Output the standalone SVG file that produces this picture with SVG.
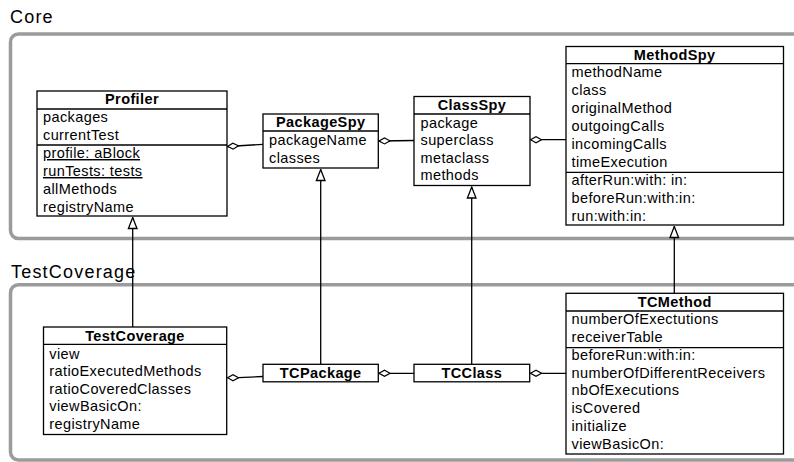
<svg xmlns="http://www.w3.org/2000/svg" width="794" height="462" viewBox="0 0 794 462">
<style>
.frame{fill:none;stroke:#9b9b9b;stroke-width:3.5}
.lbl{font-family:"Liberation Sans",Arial,Helvetica,sans-serif;font-size:18px;letter-spacing:1.2px;fill:#000}
.box{fill:#fff;stroke:#000;stroke-width:1.3}
.sep{stroke:#000;stroke-width:1.3}
.t{font-family:"Liberation Sans",Arial,Helvetica,sans-serif;font-size:14.5px;font-weight:bold;letter-spacing:0.4px;text-anchor:middle;fill:#000}
.a{font-family:"Liberation Sans",Arial,Helvetica,sans-serif;font-size:14.5px;letter-spacing:0.4px;fill:#000}
.u{text-decoration:underline}
.c{fill:none;stroke:#000;stroke-width:1.3}
.agg{marker-start:url(#dia)}
.inh{marker-end:url(#tri)}
</style>
<defs>
<marker id="dia" markerUnits="userSpaceOnUse" viewBox="-1 -4 13 8" refX="0" refY="0" markerWidth="13" markerHeight="8" orient="auto">
<path d="M0,0 L5.5,-3 L11,0 L5.5,3 Z" fill="#fff" stroke="#000" stroke-width="1.2"/>
</marker>
<marker id="tri" markerUnits="userSpaceOnUse" viewBox="-12 -6 13 12" refX="0" refY="0" markerWidth="13" markerHeight="12" orient="auto">
<path d="M0,0 L-11,-4.3 L-11,4.3 Z" fill="#fff" stroke="#000" stroke-width="1.3"/>
</marker>
</defs>

<g id="core-frame">
<rect class="frame" x="10.5" y="34" width="800" height="204.5" rx="8"/>
<text class="lbl" x="10" y="22.5">Core</text>
</g>
<g id="testcoverage-frame">
<rect class="frame" x="10.5" y="284.7" width="800" height="175.3" rx="8"/>
<text class="lbl" x="11" y="277.5">TestCoverage</text>
</g>

<g id="connectors">
<path class="c agg" d="M227.5,146.5 L263,144.3"/>
<path class="c agg" d="M379,141 L414,140.5"/>
<path class="c agg" d="M530.5,139.7 L566,139.7"/>
<path class="c agg" d="M227.5,377.7 L238.5,377.7 L263,376.5"/>
<path class="c agg" d="M379,373.3 L414,373.3"/>
<path class="c agg" d="M530.5,373.3 L566,373.3"/>
<path class="c inh" d="M132.7,327 L132.7,217.5"/>
<path class="c inh" d="M320.7,364.3 L320.7,169.5"/>
<path class="c inh" d="M471.7,364.3 L471.7,187"/>
<path class="c inh" d="M674.3,293.3 L674.3,226.5"/>
</g>

<g id="Profiler">
<rect class="box" x="37" y="91" width="190" height="125"/>
<line class="sep" x1="37" y1="109" x2="227" y2="109"/>
<line class="sep" x1="37" y1="145" x2="227" y2="145"/>
<text class="t" x="132" y="104">Profiler</text>
<text class="a" x="43" y="122">packages</text>
<text class="a" x="43" y="140">currentTest</text>
<text class="a u" x="43" y="158">profile: aBlock</text>
<text class="a u" x="43" y="176">runTests: tests</text>
<text class="a" x="43" y="194">allMethods</text>
<text class="a" x="43" y="212">registryName</text>
</g>

<g id="PackageSpy">
<rect class="box" x="263" y="114" width="115.3" height="54"/>
<line class="sep" x1="263" y1="131" x2="378.3" y2="131"/>
<text class="t" x="320.7" y="127">PackageSpy</text>
<text class="a" x="269" y="145">packageName</text>
<text class="a" x="269" y="163">classes</text>
</g>

<g id="ClassSpy">
<rect class="box" x="414" y="96.5" width="116" height="89"/>
<line class="sep" x1="414" y1="114" x2="530" y2="114"/>
<text class="t" x="472" y="110">ClassSpy</text>
<text class="a" x="420.5" y="127.5">package</text>
<text class="a" x="420.5" y="145">superclass</text>
<text class="a" x="420.5" y="162.7">metaclass</text>
<text class="a" x="420.5" y="180.3">methods</text>
</g>

<g id="MethodSpy">
<rect class="box" x="566" y="46.5" width="217.5" height="178.5"/>
<line class="sep" x1="566" y1="63.7" x2="783.5" y2="63.7"/>
<line class="sep" x1="566" y1="172.3" x2="783.5" y2="172.3"/>
<text class="t" x="674.7" y="59.5">MethodSpy</text>
<text class="a" x="571.5" y="76.7">methodName</text>
<text class="a" x="571.5" y="94.7">class</text>
<text class="a" x="571.5" y="112.5">originalMethod</text>
<text class="a" x="571.5" y="130.7">outgoingCalls</text>
<text class="a" x="571.5" y="148.7">incomingCalls</text>
<text class="a" x="571.5" y="166.7">timeExecution</text>
<text class="a" x="571.5" y="185">afterRun:with: in:</text>
<text class="a" x="571.5" y="203">beforeRun:with:in:</text>
<text class="a" x="571.5" y="221">run:with:in:</text>
</g>

<g id="TestCoverage">
<rect class="box" x="43.5" y="327" width="183.2" height="107.5"/>
<line class="sep" x1="43.5" y1="344.3" x2="226.7" y2="344.3"/>
<text class="t" x="135" y="340.7">TestCoverage</text>
<text class="a" x="49.3" y="358.7">view</text>
<text class="a" x="49.3" y="376">ratioExecutedMethods</text>
<text class="a" x="49.3" y="393.5">ratioCoveredClasses</text>
<text class="a" x="49.3" y="411">viewBasicOn:</text>
<text class="a" x="49.3" y="428.7">registryName</text>
</g>

<g id="TCPackage">
<rect class="box" x="263" y="364.3" width="115.3" height="17.5"/>
<text class="t" x="320.7" y="377.7">TCPackage</text>
</g>

<g id="TCClass">
<rect class="box" x="414" y="364.3" width="115.7" height="17.5"/>
<text class="t" x="471.8" y="377.7">TCClass</text>
</g>

<g id="TCMethod">
<rect class="box" x="566" y="293.3" width="217.5" height="160.7"/>
<line class="sep" x1="566" y1="311" x2="783.5" y2="311"/>
<line class="sep" x1="566" y1="347.7" x2="783.5" y2="347.7"/>
<text class="t" x="674.7" y="306.7">TCMethod</text>
<text class="a" x="571.5" y="324">numberOfExectutions</text>
<text class="a" x="571.5" y="342">receiverTable</text>
<text class="a" x="571.5" y="360">beforeRun:with:in:</text>
<text class="a" x="571.5" y="377.7">numberOfDifferentReceivers</text>
<text class="a" x="571.5" y="395.3">nbOfExecutions</text>
<text class="a" x="571.5" y="413.3">isCovered</text>
<text class="a" x="571.5" y="431">initialize</text>
<text class="a" x="571.5" y="449">viewBasicOn:</text>
</g>
</svg>
